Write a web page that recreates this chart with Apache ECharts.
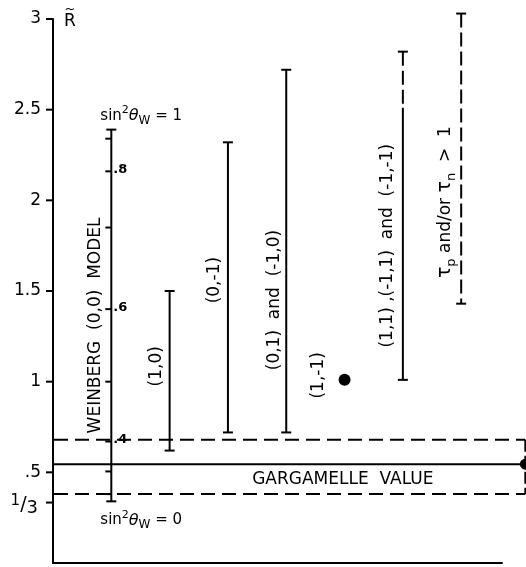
<!DOCTYPE html>
<html><head><meta charset="utf-8">
<script src="https://cdn.jsdelivr.net/npm/echarts@6/dist/echarts.min.js"></script>
<style>html,body{margin:0;padding:0;background:#fff}#c{width:526px;height:567px}</style>
</head><body><div id="c"></div>
<script>
// ---- data ----
const categories = ['WEINBERG  (0,0)  MODEL', '(1,0)', '(0,-1)', '(0,1)  and  (-1,0)', '(1,-1)', '(1,1) ,(-1,1)  and  (-1,-1)', 'TAU'];
const rangeLow  = [0.34, 0.62, 0.72, 0.72, null, 1.01, 1.43];
const rangeHigh = [2.39, 1.50, 2.32, 2.72, null, 2.82, 3.03];
const dashedFrom = [null, null, null, null, null, 2.51, 1.43];
const pointValue = [null, null, null, null, 1.01, null, null];
const labelCenter = [1.31, 1.085, 1.56, 1.45, 1.035, 1.75, 1.99];
const weinbergTickR = [0.38, 0.505, 0.67, 1.00, 1.40, 1.85, 2.16, 2.34];
const weinbergTickLabels = ['', '', '.4', '', '.6', '', '.8', ''];
const gargCentral = 0.545, gargLow = 0.38, gargHigh = 0.68;
const yTickValues = [3, 2.5, 2, 1.5, 1, 0.5, 1/3];
const yTickLabels = ['3', '2.5', '2', '1.5', '1', '.5', '1/3'];

// ---- layout / style config ----
const FONT = '"DejaVu Sans", sans-serif';
const labelDx = [-16, -13, -13, -12, -26, -15, -16];
const boxRight = 7.1;      // right end of Gargamelle box (x units)
const gargTextX = 3.97;

const chart = echarts.init(document.getElementById('c'), null, {renderer: 'canvas'});
const BLACK = '#000';

function seg(x1, y1, x2, y2, dash, w) {
  return {type: 'line', shape: {x1, y1, x2, y2},
    style: {stroke: BLACK, lineWidth: w || 2, lineDash: dash || null}};
}

const option = {
  animation: false,
  backgroundColor: '#fff',
  grid: {left: 53, right: 24, top: 19, bottom: 4},
  xAxis: {type: 'value', min: -1, max: 6.7, axisLine: {show: true, onZero: false, lineStyle: {color: BLACK, width: 2}},
    axisTick: {show: false}, axisLabel: {show: false}, splitLine: {show: false}},
  yAxis: {type: 'value', min: 0, max: 3, axisLine: {show: true, onZero: false, lineStyle: {color: BLACK, width: 2}},
    axisTick: {show: false}, axisLabel: {show: false}, splitLine: {show: false}},
  series: [
    { // y ticks & labels
      type: 'custom', clip: false, silent: true,
      data: yTickValues.map(v => [-1, v]),
      renderItem: (params, api) => {
        const p = api.coord([api.value(0), api.value(1)]);
        const i = params.dataIndex;
        const lab = yTickLabels[i];
        let text;
        if (lab === '1/3') {
          text = {type: 'text', x: p[0] - 15, y: p[1] + 3, style: {
            text: '{a|1}{b|/}{c|3}', align: 'right', verticalAlign: 'middle', fill: BLACK,
            rich: {a: {font: '15px ' + FONT, verticalAlign: 'top', lineHeight: 24},
                   b: {font: '19px ' + FONT, lineHeight: 24},
                   c: {font: '18px ' + FONT, verticalAlign: 'bottom', lineHeight: 24}}}};
        } else {
          text = {type: 'text', x: p[0] - 12, y: p[1], style: {
            text: lab, align: 'right', verticalAlign: 'middle', fill: BLACK, font: '17px ' + FONT}};
        }
        return {type: 'group', children: [seg(p[0] - 7, p[1], p[0], p[1]), text]};
      }
    },
    { // Gargamelle box
      type: 'custom', clip: false, silent: true,
      data: [[gargTextX, gargCentral, gargLow, gargHigh]],
      renderItem: (params, api) => {
        const L = api.coord([-1, gargHigh]), R = api.coord([boxRight, gargHigh]);
        const c = api.coord([-1, gargCentral]), cr = api.coord([boxRight, gargCentral]);
        const lo = api.coord([-1, gargLow]), lor = api.coord([boxRight, gargLow]);
        const t = api.coord([api.value(0), (gargCentral + gargLow) / 2]);
        return {type: 'group', children: [
          seg(L[0] + 1, L[1], R[0], R[1], [14, 7]),
          seg(lo[0] + 1, lo[1], lor[0], lor[1], [14, 7]),
          seg(c[0] + 1, c[1], cr[0], cr[1]),
          seg(R[0], R[1], lor[0], lor[1], [12, 4]),
          {type: 'circle', shape: {cx: cr[0], cy: cr[1], r: 5.5}, style: {fill: BLACK}},
          {type: 'text', x: t[0], y: t[1], style: {text: 'GARGAMELLE  VALUE', align: 'center',
            verticalAlign: 'middle', fill: BLACK, font: '17px ' + FONT}}
        ]};
      }
    },
    { // range bars
      type: 'custom', clip: false, silent: true,
      data: categories.map((c, i) => [i, rangeLow[i] == null ? 0 : rangeLow[i], rangeHigh[i] == null ? 0 : rangeHigh[i]]),
      renderItem: (params, api) => {
        const i = params.dataIndex;
        if (rangeLow[i] == null) return null;
        const lo = api.coord([i, rangeLow[i]]), hi = api.coord([i, rangeHigh[i]]);
        const ch = [];
        if (dashedFrom[i] != null) {
          const d = api.coord([i, dashedFrom[i]]);
          ch.push(seg(hi[0], hi[1], d[0], d[1], [14, 5]));
          if (dashedFrom[i] > rangeLow[i]) ch.push(seg(lo[0], lo[1], d[0], d[1]));
        } else {
          ch.push(seg(lo[0], lo[1], hi[0], hi[1]));
        }
        ch.push(seg(lo[0] - 5, lo[1], lo[0] + 5, lo[1]));
        ch.push(seg(hi[0] - 5, hi[1], hi[0] + 5, hi[1]));
        return {type: 'group', children: ch};
      }
    },
    { // Weinberg sin^2 ticks
      type: 'custom', clip: false, silent: true,
      data: weinbergTickR.map(v => [0, v]),
      renderItem: (params, api) => {
        const p = api.coord([api.value(0), api.value(1)]);
        const lab = weinbergTickLabels[params.dataIndex];
        const ch = [seg(p[0] - 6, p[1], p[0], p[1])];
        if (lab) ch.push({type: 'text', x: p[0] + 2, y: p[1] - 2, style: {text: lab, align: 'left',
          verticalAlign: 'middle', fill: BLACK, font: 'bold 13px ' + FONT}});
        return {type: 'group', children: ch};
      }
    },
    { // sin^2 theta labels at ends of the Weinberg bar
      type: 'custom', clip: false, silent: true,
      data: [[0, rangeHigh[0], 1], [0, rangeLow[0], 0]],
      renderItem: (params, api) => {
        const p = api.coord([api.value(0), api.value(1)]);
        const top = params.dataIndex === 0;
        return {type: 'text', x: p[0] - 11, y: p[1] + (top ? -14 : 19), style: {
          text: '{n|sin}{sup|2}{th|θ}{sub|W}{n| = ' + api.value(2) + '}', align: 'left', verticalAlign: 'middle', fill: BLACK,
          rich: {n: {font: '15px ' + FONT, lineHeight: 22},
                 sup: {font: '11px ' + FONT, verticalAlign: 'top', lineHeight: 22},
                 th: {font: 'italic 16px ' + FONT, lineHeight: 22},
                 sub: {font: '12px ' + FONT, verticalAlign: 'bottom', lineHeight: 22}}}};
      }
    },
    { // point (1,-1)
      type: 'scatter', symbol: 'circle', symbolSize: 12, silent: true,
      itemStyle: {color: BLACK, opacity: 1},
      data: pointValue.map((v, i) => v == null ? null : [i, v]).filter(d => d)
    },
    { // rotated category labels
      type: 'custom', clip: false, silent: true,
      data: categories.map((c, i) => [i, labelCenter[i]]),
      renderItem: (params, api) => {
        const i = params.dataIndex;
        const p = api.coord([api.value(0), api.value(1)]);
        let style;
        if (categories[i] === 'TAU') {
          style = {text: '{t|τ}{s|p}{n| and/or }{t|τ}{s|n}{n|  >  1}', align: 'center', verticalAlign: 'middle', fill: BLACK,
            rich: {t: {font: '19px ' + FONT, lineHeight: 26}, s: {font: '13px ' + FONT, verticalAlign: 'bottom', lineHeight: 26},
                   n: {font: '17px ' + FONT, lineHeight: 26}}};
        } else {
          style = {text: categories[i], align: 'center', verticalAlign: 'middle', fill: BLACK, font: '17px ' + FONT};
        }
        return {type: 'text', x: p[0] + labelDx[i], y: p[1], rotation: Math.PI / 2, style};
      }
    },
    { // R tilde axis title
      type: 'custom', clip: false, silent: true,
      data: [[-1, 3]],
      renderItem: (params, api) => {
        const p = api.coord([api.value(0), api.value(1)]);
        return {type: 'group', children: [
          {type: 'text', x: p[0] + 17, y: p[1] + 3, style: {text: 'R', align: 'center', verticalAlign: 'middle', fill: BLACK, font: '17px ' + FONT}},
          {type: 'text', x: p[0] + 17, y: p[1] - 9, style: {text: '~', align: 'center', verticalAlign: 'middle', fill: BLACK, font: '13px ' + FONT}}
        ]};
      }
    }
  ]
};
chart.setOption(option);
</script>
</body></html>
